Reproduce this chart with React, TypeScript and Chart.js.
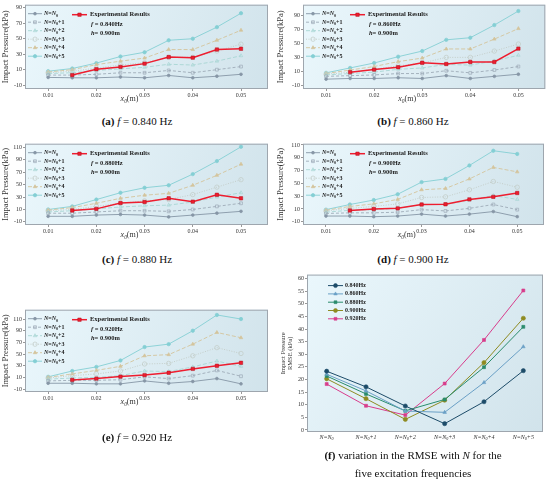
import { useEffect, useRef } from "react"
import { Chart, registerables, type ChartConfiguration, type Plugin } from "chart.js"

// Register Chart.js components
Chart.register(...registerables)

const SERIF = '"Liberation Serif", "Times New Roman", serif'

// gauge positions x0 (m)
const xPositions = [0.01, 0.015, 0.02, 0.025, 0.03, 0.035, 0.04, 0.045, 0.05]
const xExperimental = [0.015, 0.02, 0.025, 0.03, 0.035, 0.04, 0.045, 0.05]
const xTicks = [0.01, 0.02, 0.03, 0.04, 0.05]

// number of terms N
const nCategories = ["N=N0", "N=N0+1", "N=N0+2", "N=N0+3", "N=N0+4", "N=N0+5"]

// computed impact pressure (kPa), one row per N, f = 0.840 Hz
const model840 = [
  [0, -0.5, -0.5, 0.5, -0.5, 2.5, -0.5, 1.5, 4],
  [3, 3, 4, 6, 6, 9, 6, 10, 14],
  [5, 6, 9, 11, 13, 17, 16, 21, 28],
  [6, 8, 12, 16, 19, 26, 26, 34, 43],
  [7, 10, 16.5, 21, 25, 36, 36, 48, 61],
  [8, 11.5, 18.5, 27, 32.5, 48, 50, 65, 83],
]
const exp840 = [3, 10.6, 13.6, 17.8, 26.3, 25.5, 36, 37]

const model860 = [
  [-1, 0, 0, 1, 0, 4, 0, 3, 6],
  [3, 4, 5, 7, 7, 11, 8, 12, 17],
  [5, 7, 9, 13, 15, 20, 19, 25, 33],
  [6, 9, 13, 18, 22, 30, 30, 39, 49],
  [7, 12, 17, 24, 29, 42, 42, 56, 71],
  [8, 15, 22, 31, 39, 55, 58, 76, 96],
]
const exp860 = [9, 12.6, 16, 22.4, 20.6, 23.4, 23.4, 42.5]

const model880 = [
  [-1, -1, 1, 2, 1, -2, 1, 4, 7],
  [4, 4, 6, 8, 8, 7, 10, 15, 20],
  [6, 8, 11, 14, 16, 17, 22, 30, 37],
  [8, 10, 15, 20, 24, 26, 34, 46, 58],
  [9, 13, 20, 28, 33, 36, 49, 65, 83],
  [10, 15, 26, 37, 45, 49, 67, 88, 111],
]
const exp880 = [8.4, 11, 20.5, 22, 28, 22.6, 33.7, 28]

const model900 = [
  [-1, -1, -2, -1, 2, -1, 2, 6, -2],
  [3, 4, 4, 5, 9, 7, 11, 17, 9],
  [5, 8, 9, 11, 17, 17, 24, 31, 25],
  [7, 11, 14, 18, 28, 29, 40, 53, 44],
  [8, 14, 18, 25, 40, 42, 57, 75, 68],
  [9, 17, 24, 33, 52, 57, 78, 101, 96],
]
const exp900 = [7.7, 10, 11, 17, 17.4, 25, 29, 35]

const model920 = [
  [0, 0, -1, -1, 4, 0, 3, 8, -1],
  [4, 5, 5, 6, 11, 8, 13, 22, 12],
  [7, 9, 10, 13, 21, 20, 28, 38, 29],
  [9, 13, 16, 21, 33, 34, 47, 61, 51],
  [10, 16, 22, 29, 47, 49, 67, 87, 78],
  [11, 21, 28, 39, 62, 67, 90, 117, 110],
]
const exp920 = [5.7, 8, 11.4, 14, 18, 24.6, 30, 35]

const yTicks840 = [-10, 0, 10, 20, 30, 40, 50, 60, 70, 80, 90]
const yTicks860 = [-10, 0, 10, 20, 30, 40, 50, 60, 70, 80, 90, 100]
const yTicks880 = [-10, 0, 10, 20, 30, 40, 50, 60, 70, 80, 90, 100, 110]
const yTicks920 = [-10, 0, 10, 20, 30, 40, 50, 60, 70, 80, 90, 100, 110, 120]

// RMSE (kPa) against N
const rmseLabels = ["0.840Hz", "0.860Hz", "0.880Hz", "0.900Hz", "0.920Hz"]
const rmse840 = [23.3, 17.1, 9.5, 2.5, 11.2, 23.5]
const rmse860 = [22.1, 15.5, 7.5, 7.0, 18.8, 33]
const rmse880 = [21.4, 14.3, 7.6, 12.1, 24.9, 40.9]
const rmse900 = [20.3, 12.4, 4.2, 11.8, 26.7, 44.3]
const rmse920 = [18.2, 9.6, 5.9, 18.4, 35.7, 55.3]
const rmseTicks = [0, 5, 10, 15, 20, 25, 30, 35, 40, 45, 50, 55, 60]

type Marker = "circle" | "rect" | "triangle"

const modelStyles: { color: string; dash: number[]; point: Marker; radius: number; fill: boolean }[] = [
  { color: "#8696a6", dash: [], point: "circle", radius: 1.4, fill: true },
  { color: "#9eabb8", dash: [3, 2], point: "rect", radius: 2, fill: false },
  { color: "#a8d6d4", dash: [4, 2], point: "triangle", radius: 2, fill: false },
  { color: "#c2cbc5", dash: [1, 1.5], point: "circle", radius: 2.2, fill: false },
  { color: "#d4c49c", dash: [4, 2], point: "triangle", radius: 2, fill: true },
  { color: "#84cfd4", dash: [], point: "circle", radius: 1.7, fill: true },
]
const expColor = "#ee1d2f"

const rmseStyles: { color: string; point: Marker }[] = [
  { color: "#1d4c69", point: "circle" },
  { color: "#6aa0c6", point: "triangle" },
  { color: "#2a8c6c", point: "rect" },
  { color: "#8e8b22", point: "circle" },
  { color: "#d83d8c", point: "rect" },
]

type Seg = { t: string; style?: string; sub?: boolean }

// draw text made of styled pieces, with lowered small subscripts
function drawRich(ctx: CanvasRenderingContext2D, segs: Seg[], x: number, y: number, size: number, align = "left") {
  const fontOf = (s: Seg) => `${s.style ?? ""} ${s.sub ? size * 0.68 : size}px ${SERIF}`
  let width = 0
  segs.forEach((s) => {
    ctx.font = fontOf(s)
    width += ctx.measureText(s.t).width
  })
  let cx = align === "center" ? x - width / 2 : x
  ctx.textAlign = "left"
  ctx.textBaseline = "middle"
  segs.forEach((s) => {
    ctx.font = fontOf(s)
    ctx.fillText(s.t, cx, s.sub ? y + size * 0.3 : y)
    cx += ctx.measureText(s.t).width
  })
}

// "N=N0+2" -> italic N, subscript 0
function nSegs(label: string, style: string): Seg[] {
  const rest = label.replace("N=N0", "")
  return [
    { t: "N", style: `italic ${style}` },
    { t: "=", style },
    { t: "N", style: `italic ${style}` },
    { t: "0", style, sub: true },
    { t: rest, style },
  ]
}

function drawMarker(ctx: CanvasRenderingContext2D, style: Marker, x: number, y: number, r: number, fill: string, stroke: string) {
  ctx.beginPath()
  if (style === "circle") ctx.arc(x, y, r, 0, Math.PI * 2)
  else if (style === "rect") {
    const s = r * Math.SQRT1_2
    ctx.rect(x - s, y - s, 2 * s, 2 * s)
  } else {
    ctx.moveTo(x, y - r)
    ctx.lineTo(x + r * 0.87, y + r * 0.5)
    ctx.lineTo(x - r * 0.87, y + r * 0.5)
    ctx.closePath()
  }
  ctx.fillStyle = fill
  ctx.fill()
  ctx.strokeStyle = stroke
  ctx.stroke()
}

function legendSample(ctx: CanvasRenderingContext2D, x0: number, x1: number, y: number, color: string, dash: number[], lw: number) {
  ctx.beginPath()
  ctx.setLineDash(dash)
  ctx.lineWidth = lw
  ctx.strokeStyle = color
  ctx.moveTo(x0, y)
  ctx.lineTo(x1, y)
  ctx.stroke()
  ctx.setLineDash([])
}

const plotFrame: Plugin = {
  id: "plotFrame",
  beforeDraw(chart) {
    const { ctx, chartArea: a } = chart
    const g = ctx.createLinearGradient(a.left, a.top, a.right, a.bottom)
    g.addColorStop(0, "#eaf7fc")
    g.addColorStop(1, "#d1e3eb")
    ctx.save()
    ctx.fillStyle = g
    ctx.fillRect(a.left, a.top, a.width, a.height)
    ctx.restore()
  },
  afterDatasetsDraw(chart) {
    const { ctx, chartArea: a } = chart
    ctx.save()
    ctx.strokeStyle = "#9ea6ae"
    ctx.lineWidth = 1
    ctx.strokeRect(a.left + 0.5, a.top + 0.5, a.width - 1, a.height - 1)
    ctx.restore()
  },
}

interface PanelProps {
  model: number[][]
  experimental: number[]
  yTicks: number[]
  yMax: number
  freq: string
  left: number
  top: number
  height: number
  axisWidth: number
  padRight: number
}

function PressurePanel({ model, experimental, yTicks, yMax, freq, left, top, height, axisWidth, padRight }: PanelProps) {
  const canvasRef = useRef<HTMLCanvasElement>(null)

  useEffect(() => {
    if (!canvasRef.current) return

    const legend: Plugin = {
      id: "pressureLegend",
      afterDraw(chart) {
        const { ctx, chartArea: a } = chart
        ctx.save()
        ctx.fillStyle = "#222"
        nCategories.forEach((label, k) => {
          const st = modelStyles[k]
          const y = a.top + 9 + k * 8.5
          legendSample(ctx, a.left + 3, a.left + 17, y, st.color, st.dash, 0.9)
          ctx.lineWidth = 0.7
          drawMarker(ctx, st.point, a.left + 10, y, st.radius, st.fill ? st.color : "rgba(0,0,0,0)", st.color)
          ctx.fillStyle = "#222"
          drawRich(ctx, nSegs(label, "bold"), a.left + 19, y, 6)
        })
        const ey = a.top + 10
        legendSample(ctx, a.left + 47, a.left + 62, ey, expColor, [], 1.5)
        ctx.lineWidth = 0.5
        drawMarker(ctx, "rect", a.left + 54.5, ey, 2.4, expColor, "#b0101c")
        ctx.fillStyle = "#222"
        drawRich(ctx, [{ t: "Experimental Results", style: "bold" }], a.left + 65, ey, 6.5)
        drawRich(ctx, [{ t: "f", style: "italic bold" }, { t: ` = ${freq}Hz`, style: "bold" }], a.left + 66, a.top + 20, 6.5)
        drawRich(ctx, [{ t: "h", style: "italic bold" }, { t: "= 0.900m", style: "bold" }], a.left + 66, a.top + 29, 6.5)
        // axis title x0(m)
        ctx.fillStyle = "#333"
        drawRich(
          ctx,
          [{ t: "x", style: "italic" }, { t: "0", style: "italic", sub: true }, { t: "(m)" }],
          a.left + a.width * 0.43,
          a.bottom + 10,
          8,
          "center"
        )
        ctx.restore()
      },
    }

    const config: ChartConfiguration<"line"> = {
      type: "line",
      data: {
        datasets: [
          {
            label: "Experimental Results",
            data: xExperimental.map((x, i) => ({ x, y: experimental[i] })),
            borderColor: expColor,
            backgroundColor: expColor,
            borderWidth: 1.5,
            pointStyle: "rect",
            pointRadius: 2.4,
            pointBorderColor: "#b0101c",
            pointBorderWidth: 0.5,
          },
          ...model.map((row, k) => {
            const st = modelStyles[k]
            return {
              label: nCategories[k],
              data: xPositions.map((x, i) => ({ x, y: row[i] })),
              borderColor: st.color,
              borderWidth: 0.9,
              borderDash: st.dash,
              pointStyle: st.point,
              pointRadius: st.radius,
              pointBackgroundColor: st.fill ? st.color : "rgba(0,0,0,0)",
              pointBorderColor: st.color,
              pointBorderWidth: 0.7,
            }
          }),
        ],
      },
      options: {
        animation: false,
        responsive: false,
        layout: { padding: { top: 3, right: padRight, left: 0, bottom: 0 } },
        plugins: { legend: { display: false }, tooltip: { enabled: false } },
        scales: {
          x: {
            type: "linear",
            min: 0.0052,
            max: 0.0556,
            afterBuildTicks: (s) => {
              s.ticks = xTicks.map((value) => ({ value }))
            },
            afterFit: (s) => {
              s.height = 23
            },
            ticks: {
              font: { family: SERIF, size: 6 },
              color: "#333",
              padding: 1,
              maxRotation: 0,
              autoSkip: false,
              callback: (v) => Number(v).toFixed(2),
            },
            grid: { drawOnChartArea: false, tickLength: 2, color: "#999" },
            border: { display: false },
          },
          y: {
            min: -15,
            max: yMax,
            afterBuildTicks: (s) => {
              s.ticks = yTicks.map((value) => ({ value }))
            },
            afterFit: (s) => {
              s.width = axisWidth
            },
            ticks: { font: { family: SERIF, size: 6 }, color: "#333", padding: 1 },
            grid: { drawOnChartArea: false, tickLength: 2, color: "#999" },
            border: { display: false },
            title: {
              display: true,
              text: "Impact Pressure(kPa)",
              font: { family: SERIF, size: 8.5 },
              color: "#333",
              padding: { top: 1, bottom: 0 },
            },
          },
        },
      },
      plugins: [plotFrame, legend],
    }

    const chart = new Chart(canvasRef.current, config)
    return () => {
      chart.destroy()
    }
  }, [model, experimental, yTicks, yMax, freq, axisWidth, padRight])

  return (
    <canvas
      ref={canvasRef}
      width={275}
      height={height}
      style={{ position: "absolute", left, top, width: 275, height }}
    />
  )
}

function RmsePanel() {
  const canvasRef = useRef<HTMLCanvasElement>(null)

  useEffect(() => {
    if (!canvasRef.current) return
    const series = [rmse840, rmse860, rmse880, rmse900, rmse920]

    const legend: Plugin = {
      id: "rmseLegend",
      afterDraw(chart) {
        const { ctx, chartArea: a } = chart
        const xScale = chart.scales.x
        ctx.save()
        rmseLabels.forEach((label, k) => {
          const st = rmseStyles[k]
          const y = a.top + 11 + k * 8.3
          legendSample(ctx, a.left + 21, a.left + 36, y, st.color, [], 1)
          ctx.lineWidth = 0.6
          drawMarker(ctx, st.point, a.left + 28.5, y, 2, st.color, st.color)
          ctx.fillStyle = "#222"
          drawRich(ctx, [{ t: label, style: "bold" }], a.left + 38, y, 6)
        })
        ctx.fillStyle = "#333"
        nCategories.forEach((label, i) => {
          drawRich(ctx, nSegs(label, "italic"), xScale.getPixelForValue(i), a.bottom + 5, 6, "center")
        })
        ctx.restore()
      },
    }

    const config: ChartConfiguration<"line"> = {
      type: "line",
      data: {
        labels: nCategories,
        datasets: series.map((values, k) => ({
          label: rmseLabels[k],
          data: values,
          borderColor: rmseStyles[k].color,
          backgroundColor: rmseStyles[k].color,
          borderWidth: 1,
          pointStyle: rmseStyles[k].point,
          pointRadius: 2.1,
          pointBorderWidth: 0.6,
        })),
      },
      options: {
        animation: false,
        responsive: false,
        layout: { padding: { top: 3, right: 7, left: 0, bottom: 0 } },
        plugins: { legend: { display: false }, tooltip: { enabled: false } },
        scales: {
          x: {
            type: "category",
            offset: true,
            afterFit: (s) => {
              s.height = 10
            },
            ticks: { display: false },
            grid: { display: false },
            border: { display: false },
          },
          y: {
            min: -0.8,
            max: 61.6,
            afterBuildTicks: (s) => {
              s.ticks = rmseTicks.map((value) => ({ value }))
            },
            afterFit: (s) => {
              s.width = 32
            },
            ticks: { font: { family: SERIF, size: 6 }, color: "#333", padding: 1 },
            grid: { drawOnChartArea: false, tickLength: 2, color: "#999" },
            border: { display: false },
            title: {
              display: true,
              text: ["Impact Pressure", "RMSE (kPa)"],
              font: { family: SERIF, size: 6.5 },
              color: "#333",
              padding: { top: 4, bottom: 0 },
            },
          },
        },
      },
      plugins: [plotFrame, legend],
    }

    const chart = new Chart(canvasRef.current, config)
    return () => {
      chart.destroy()
    }
  }, [])

  return (
    <canvas
      ref={canvasRef}
      width={275}
      height={172}
      style={{ position: "absolute", left: 275, top: 270, width: 275, height: 172 }}
    />
  )
}

function Caption({ cx, cy, children }: { cx: number; cy: number; children: React.ReactNode }) {
  return (
    <div
      style={{
        position: "absolute",
        left: cx - 150,
        top: cy - 7,
        width: 300,
        textAlign: "center",
        fontFamily: SERIF,
        fontSize: 11,
        lineHeight: "14px",
        color: "#111",
        whiteSpace: "nowrap",
      }}
    >
      {children}
    </div>
  )
}

function FreqCaption({ cx, cy, tag, freq }: { cx: number; cy: number; tag: string; freq: string }) {
  return (
    <Caption cx={cx} cy={cy}>
      <b>({tag})</b> <i>f</i> = {freq} Hz
    </Caption>
  )
}

export default function App() {
  return (
    <div style={{ position: "absolute", left: 0, top: 0, width: 550, height: 486, background: "#fff", overflow: "hidden" }}>
      <PressurePanel model={model840} experimental={exp840} yTicks={yTicks840} yMax={94} freq="0.840" left={0} top={0} height={112} axisWidth={25} padRight={7} />
      <PressurePanel model={model860} experimental={exp860} yTicks={yTicks860} yMax={105} freq="0.860" left={275} top={0} height={112} axisWidth={28} padRight={4} />
      <PressurePanel model={model880} experimental={exp880} yTicks={yTicks880} yMax={116} freq="0.880" left={0} top={139} height={109} axisWidth={25} padRight={7} />
      <PressurePanel model={model900} experimental={exp900} yTicks={yTicks880} yMax={112} freq="0.900" left={275} top={139} height={109} axisWidth={28} padRight={6} />
      <PressurePanel model={model920} experimental={exp920} yTicks={yTicks920} yMax={126} freq="0.920" left={0} top={305} height={110} axisWidth={25} padRight={7} />
      <RmsePanel />
      <FreqCaption cx={137} cy={121} tag="a" freq="0.840" />
      <FreqCaption cx={413} cy={121} tag="b" freq="0.860" />
      <FreqCaption cx={137} cy={259} tag="c" freq="0.880" />
      <FreqCaption cx={413} cy={259} tag="d" freq="0.900" />
      <FreqCaption cx={137} cy={437} tag="e" freq="0.920" />
      <Caption cx={413} cy={455}>
        <b>(f)</b> variation in the RMSE with <i>N</i> for the
      </Caption>
      <Caption cx={413} cy={473}>
        five excitation frequencies
      </Caption>
    </div>
  )
}
